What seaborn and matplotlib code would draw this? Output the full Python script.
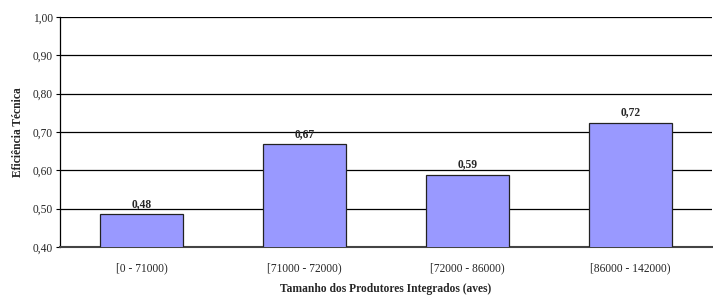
import matplotlib
matplotlib.use("Agg")
import matplotlib.pyplot as plt
import seaborn as sns
import pandas as pd

categories = ["[0 - 71000)", "[71000 - 72000)", "[72000 - 86000)", "[86000 - 142000)"]
values = [0.485, 0.668, 0.589, 0.724]
labels = ["0,48", "0,67", "0,59", "0,72"]
yticks = [0.40, 0.50, 0.60, 0.70, 0.80, 0.90, 1.00]

sns.set_style("white")
plt.rcParams['font.family'] = ['Liberation Serif', 'DejaVu Serif']

df = pd.DataFrame({"cat": categories, "val": values})

fs = 8.3
fig = plt.figure(figsize=(7.13, 2.95), dpi=100)
ax = fig.add_axes([60/713, 1-247/295, 652/713, 230/295])
sns.barplot(data=df, x="cat", y="val", color="#9999FF", edgecolor="#222222",
            linewidth=0.9, width=0.51, saturation=1, ax=ax, zorder=3)

ax.set_ylim(0.40, 1.00)
ax.set_xlim(-0.5, 3.5)
ax.set_yticks(yticks)
ax.set_yticklabels([f"{t:.2f}".replace(".", ",") for t in yticks], fontsize=fs)
for t in yticks[1:]:
    ax.axhline(t, color="black", linewidth=0.9, zorder=1)
ax.set_xticks([0, 1, 2, 3])
ax.set_xticklabels(categories, fontsize=fs)
ax.set_xticks([0.5, 1.5, 2.5], minor=True)
ax.tick_params(axis="x", which="major", length=0, pad=11)
ax.tick_params(axis="x", which="minor", length=3, width=0.8, color="black", direction="in")
ax.tick_params(axis="y", length=3, width=0.8, color="black", direction="out", pad=2, left=True)

for s in ["top", "right"]:
    ax.spines[s].set_visible(False)
ax.spines["left"].set_color("black")
ax.spines["left"].set_linewidth(0.9)
ax.spines["bottom"].set_color("#444444")
ax.spines["bottom"].set_linewidth(1.5)

for i, (v, lab) in enumerate(zip(values, labels)):
    ax.text(i, v + 0.012, lab, ha="center", va="bottom", fontsize=fs, fontweight="bold")

ax.set_xlabel("Tamanho dos Produtores Integrados (aves)", fontsize=fs, fontweight="bold", labelpad=6)
ax.set_ylabel("Eficiência Técnica", fontsize=fs, fontweight="bold", labelpad=6)

fig.savefig("out.png", dpi=100)
